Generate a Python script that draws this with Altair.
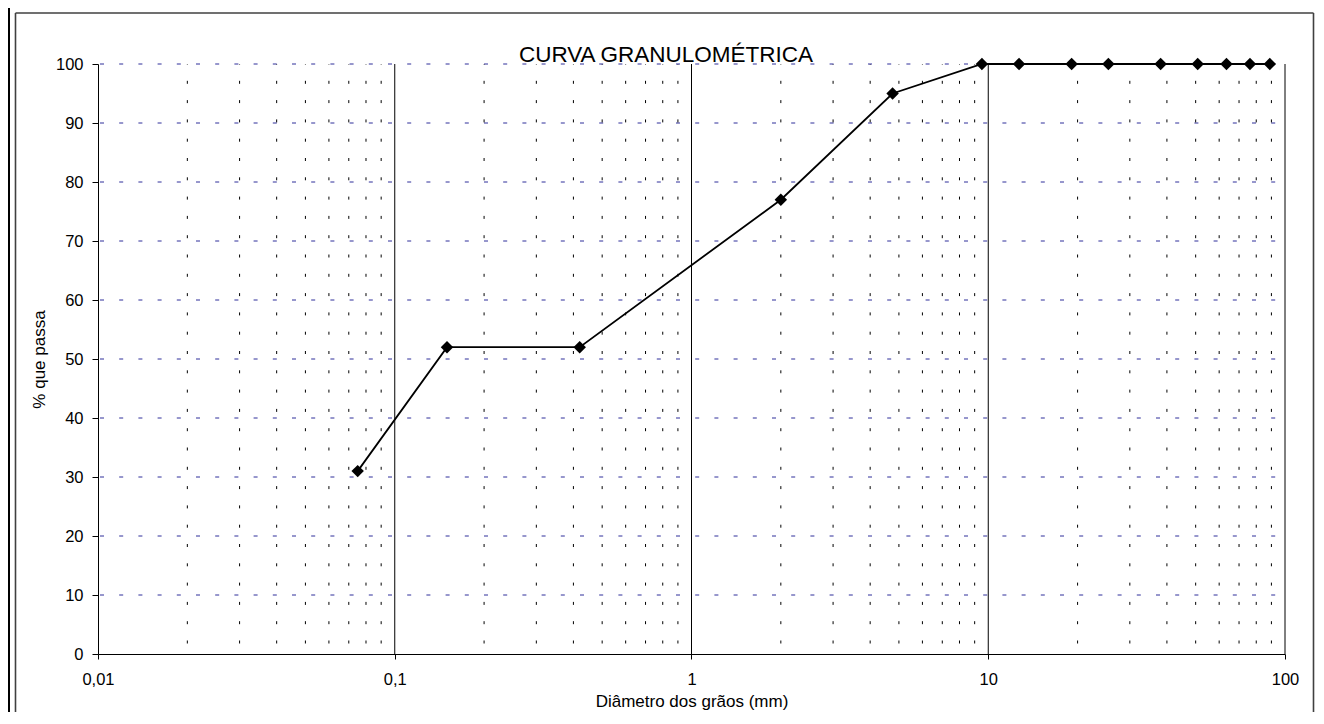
import altair as alt
import pandas as pd

# Data
diametros = [88.9, 76.2, 63.5, 50.8, 38.1, 25.4, 19.1, 12.7, 9.52, 4.76, 2.0, 0.42, 0.15, 0.075]
passa = [100, 100, 100, 100, 100, 100, 100, 100, 100, 95, 77, 52, 52, 31]

x_ticks = [0.01, 0.1, 1, 10, 100]
y_ticks = [0, 10, 20, 30, 40, 50, 60, 70, 80, 90, 100]
major_v = [0.1, 1, 10, 100]
decades = [0.01, 0.1, 1, 10]
minor_mult = [2, 3, 4, 5, 6, 7, 8, 9]
horiz_grid = [10, 20, 30, 40, 50, 60, 70, 80, 90, 100]
chart_title = "CURVA GRANULOMÉTRICA"

FONT = "Arial, Liberation Sans, sans-serif"

df = pd.DataFrame({"d": diametros, "p": passa})
minor_vals = [m * d for d in decades for m in minor_mult]
minor_df = pd.DataFrame({"d": minor_vals, "p": [0] * len(minor_vals), "p2": [100] * len(minor_vals)})
major_df = pd.DataFrame({"d": major_v, "p": [0] * len(major_v), "p2": [100] * len(major_v)})
hgrid_df = pd.DataFrame({"p": horiz_grid, "d": [0.01] * len(horiz_grid), "d2": [100] * len(horiz_grid)})
one = pd.DataFrame({"t": [chart_title]})

xscale = alt.Scale(type="log", domain=[0.01, 100], nice=False)
yscale = alt.Scale(domain=[0, 100], nice=False)

xaxis = alt.Axis(
    values=x_ticks,
    labelExpr="replace(toString(datum.value), '.', ',')",
    title="Diâmetro dos grãos (mm)",
    grid=False,
    tickSize=5,
    tickColor="#000000",
    domainColor="#000000",
    labelColor="#000000",
    titleColor="#000000",
    labelFont=FONT,
    titleFont=FONT,
    labelFontSize=16.5,
    titleFontSize=17,
    titleFontWeight="normal",
    labelPadding=12,
    titlePadding=6,
    labelFlush=False,
    labelOverlap=False,
)
yaxis = alt.Axis(
    values=y_ticks,
    title="% que passa",
    grid=False,
    tickSize=6,
    tickColor="#000000",
    domainColor="#000000",
    labelColor="#000000",
    titleColor="#000000",
    labelFont=FONT,
    titleFont=FONT,
    labelFontSize=16.5,
    titleFontSize=17,
    titleFontWeight="normal",
    labelPadding=9,
    titlePadding=7,
)

X = alt.X("d:Q", scale=xscale, axis=xaxis, title="Diâmetro dos grãos (mm)")
Y = alt.Y("p:Q", scale=yscale, axis=yaxis, title="% que passa")

hgrid = alt.Chart(hgrid_df).mark_rule(
    color="#2e2e9a", strokeWidth=1, strokeDash=[4, 15.2], strokeDashOffset=17.2
).encode(x=X, x2="d2:Q", y=Y)

minor = alt.Chart(minor_df).mark_rule(
    color="#000000", strokeWidth=1, strokeDash=[3, 16.3], strokeDashOffset=8.8
).encode(x=X, y=Y, y2="p2:Q")

major = alt.Chart(major_df).mark_rule(color="#000000", strokeWidth=1).encode(
    x=X, y=Y, y2="p2:Q"
)

line = alt.Chart(df).mark_line(color="#000000", strokeWidth=1.8).encode(x=X, y=Y)
pts = alt.Chart(df).mark_point(
    shape="diamond", filled=True, size=155, color="#000000", opacity=1
).encode(x=X, y=Y)

# chart title as a text mark (placed just above the plot area)
title_mark = alt.Chart(one).mark_text(
    font=FONT, fontSize=22.5, color="#000000", align="center", baseline="alphabetic"
).encode(text="t:N", x=alt.value(568), y=alt.value(-2))

# decorative frame around the chart object
frame_left_thick = alt.Chart(one).mark_rule(color="#000000", strokeWidth=2).encode(
    x=alt.value(-89), y=alt.value(-56), y2=alt.value(650)
)
frame_left = alt.Chart(one).mark_rule(color="#404040", strokeWidth=1.6).encode(
    x=alt.value(-82.5), y=alt.value(-51), y2=alt.value(650)
)
frame_right = alt.Chart(one).mark_rule(color="#404040", strokeWidth=1.6).encode(
    x=alt.value(1215.5), y=alt.value(-51), y2=alt.value(650)
)
frame_top = alt.Chart(one).mark_rule(color="#404040", strokeWidth=1.6).encode(
    x=alt.value(-82.5), x2=alt.value(1215.5), y=alt.value(-51)
)

chart = alt.layer(
    hgrid, minor, major, line, pts, title_mark,
    frame_left_thick, frame_left, frame_right, frame_top,
).properties(
    width=1187,
    height=590,
    autosize=alt.AutoSizeParams(type="none"),
    padding={"left": 90, "top": 56, "right": 31, "bottom": 58},
).configure_view(stroke=None)

chart.save("out.html", embed_options={"renderer": "svg", "actions": False})
